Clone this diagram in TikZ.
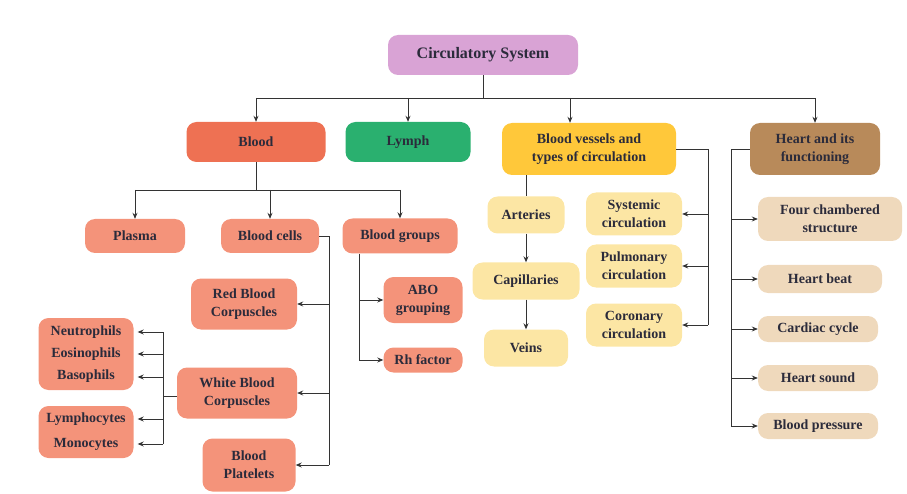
\documentclass[tikz,border=0pt]{standalone}
\usepackage{fontspec}
\setmainfont{Liberation Serif}
\usetikzlibrary{arrows.meta,positioning,calc}
\definecolor{cInk}{HTML}{2B2B3B}
\definecolor{cLine}{HTML}{333333}
\definecolor{cRootFill}{HTML}{D9A3D5}
\definecolor{cBloodFill}{HTML}{EE7153}
\definecolor{cBSubFill}{HTML}{F4937A}
\definecolor{cLymphFill}{HTML}{2AB06F}
\definecolor{cVesFill}{HTML}{FFC83A}
\definecolor{cVSubFill}{HTML}{FCE6A4}
\definecolor{cHeartFill}{HTML}{B88A5A}
\definecolor{cHSubFill}{HTML}{EFD9BC}
\tikzset{
  csBase/.style={rounded corners=10pt, align=center, inner sep=2pt,
    font=\fontsize{14}{18}\selectfont\bfseries, text=cInk},
  csRoot/.style={csBase, fill=cRootFill, minimum width=190pt, minimum height=40pt,
    font=\fontsize{16}{19}\selectfont\bfseries},
  csBlood/.style={csBase, fill=cBloodFill},
  csLymph/.style={csBase, fill=cLymphFill},
  csVessel/.style={csBase, fill=cVesFill},
  csHeart/.style={csBase, fill=cHeartFill},
  csBSub/.style={csBase, fill=cBSubFill},
  csVSub/.style={csBase, fill=cVSubFill},
  csHSub/.style={csBase, fill=cHSubFill},
  %% connectors
  cline/.style={draw=cLine, line width=0.8pt},
  carr/.style={cline, -{Stealth[length=6pt,width=5pt]}},
}
\begin{document}
\begin{tikzpicture}[x=1pt, y=-1pt]
\useasboundingbox (0,0) rectangle (907,494);

\node[csRoot] (nRoot) at (483,55) {Circulatory System};
\node[csBlood, minimum width=139pt, minimum height=40pt]  (nBlood)  at (256,142) {Blood};
\node[csLymph, minimum width=125pt, minimum height=40pt]  (nLymph)  at (408,142) {Lymph};
\node[csVessel, minimum width=174pt, minimum height=52pt] (nVessel) at (589,149) {Blood vessels and\\types of circulation};
\node[csHeart, minimum width=130pt, minimum height=52pt]  (nHeart)  at (815,149) {Heart and its\\functioning};

%% blood
\node[csBSub, minimum width=100pt, minimum height=34pt] (nPlasma) at (135,236) {Plasma};
\node[csBSub, minimum width=98pt, minimum height=34pt]  (nCells)  at (270,236) {Blood cells};
\node[csBSub, minimum width=115pt, minimum height=35pt] (nGroups) at (400,236) {Blood groups};
\node[csBSub, minimum width=106pt, minimum height=51pt] (nRBC)    at (244,304) {Red Blood\\Corpuscles};
\node[csBSub, minimum width=120pt, minimum height=51pt] (nWBC)    at (237,393) {White Blood\\Corpuscles};
\node[csBSub, minimum width=93pt, minimum height=53pt]  (nPlat)   at (249,465) {Blood\\Platelets};
\node[csBSub, minimum width=95pt, minimum height=72pt]  (nNeut)   at (86,354) {Neutrophils\\[4pt]Eosinophils\\[4pt]Basophils};
\node[csBSub, minimum width=95pt, minimum height=52pt]  (nLympho) at (86,432) {Lymphocytes\\[7pt]Monocytes};
\node[csBSub, minimum width=79pt, minimum height=46pt]  (nABO)    at (423,300) {ABO\\grouping};
\node[csBSub, minimum width=79pt, minimum height=25pt]  (nRh)     at (423,360) {Rh factor};

%% vessels
\node[csVSub, minimum width=77pt, minimum height=37pt]  (nArt)  at (526,215) {Arteries};
\node[csVSub, minimum width=107pt, minimum height=37pt] (nCap)  at (526,281) {Capillaries};
\node[csVSub, minimum width=84pt, minimum height=37pt]  (nVein) at (526,348) {Veins};
\node[csVSub, minimum width=96pt, minimum height=43pt]  (nSys)  at (634,214) {Systemic\\circulation};
\node[csVSub, minimum width=96pt, minimum height=43pt]  (nPul)  at (634,266) {Pulmonary\\circulation};
\node[csVSub, minimum width=96pt, minimum height=43pt]  (nCor)  at (634,325) {Coronary\\circulation};

%% heart
\node[csHSub, minimum width=144pt, minimum height=44pt] (nFour)  at (830,219) {Four chambered\\structure};
\node[csHSub, minimum width=124pt, minimum height=28pt] (nBeat)  at (820,279) {Heart beat};
\node[csHSub, minimum width=120pt, minimum height=26pt] (nCycle) at (818,329) {Cardiac cycle};
\node[csHSub, minimum width=120pt, minimum height=26pt] (nSound) at (818,378) {Heart sound};
\node[csHSub, minimum width=120pt, minimum height=26pt] (nPress) at (818,426) {Blood pressure};

%% top level bus
\coordinate (kTop) at (483,98);
\coordinate (kVes) at ([xshift=-19pt]nVessel.north);
\draw[cline] (nRoot.south) -- (kTop);
\draw[cline] (kTop -| nBlood.north) -- (kTop -| nHeart.north);
\foreach \n in {nBlood,nLymph,nHeart,kVes}
  \draw[carr] (kTop -| \n.north) -- (\n.north);

%% blood bus
\coordinate (kBl) at (0,190);
\draw[cline] (nBlood.south) -- (nBlood.south |- kBl);
\draw[cline] (kBl -| nPlasma.north) -- (kBl -| nGroups.north);
\foreach \n in {nPlasma,nCells,nGroups}
  \draw[carr] (kBl -| \n.north) -- (\n.north);

\coordinate (kCe) at (329,0);
\draw[cline] (nCells.east) -- (nCells.east -| kCe) -- (kCe |- nPlat.east);
\foreach \n in {nRBC,nWBC,nPlat}
  \draw[carr] (kCe |- \n.east) -- (\n.east);

\coordinate (kWb) at (163,0);
\coordinate (kWt) at ([yshift=22pt]nNeut.east);
\coordinate (kWd) at ([yshift=-12pt]nLympho.east);
\draw[cline] ([yshift=-3pt]nWBC.west) -- ([yshift=-3pt]nWBC.west -| kWb);
\draw[cline] (kWb |- kWt) -- (kWb |- kWd);
\foreach \s in {22,0,-23} {
  \coordinate (kT) at ([xshift=4pt, yshift=\s pt]nNeut.east);
  \draw[carr] (kWb |- kT) -- (kT);
}
\foreach \s in {13,-12} {
  \coordinate (kT) at ([xshift=4pt, yshift=\s pt]nLympho.east);
  \draw[carr] (kWb |- kT) -- (kT);
}

\coordinate (kGr) at (359,0);
\draw[cline] (nGroups.south -| kGr) -- (kGr |- nRh.west);
\foreach \n in {nABO,nRh}
  \draw[carr] (kGr |- \n.west) -- (\n.west);

%% vessels
\draw[cline] (nVessel.south -| nArt.north) -- (nArt.north);
\draw[carr] (nArt.south) -- (nCap.north);
\draw[carr] (nCap.south) -- (nVein.north);
\coordinate (kVr) at (708,0);
\draw[cline] (nVessel.east) -- (nVessel.east -| kVr) -- (kVr |- nCor.east);
\foreach \n in {nSys,nPul,nCor}
  \draw[carr] (kVr |- \n.east) -- (\n.east);

%% heart
\coordinate (kHr) at (731,0);
\draw[cline] (nHeart.west) -- (nHeart.west -| kHr) -- (kHr |- nPress.west);
\foreach \n in {nFour,nBeat,nCycle,nSound,nPress}
  \draw[carr] (kHr |- \n.west) -- (\n.west);

\end{tikzpicture}
\end{document}
